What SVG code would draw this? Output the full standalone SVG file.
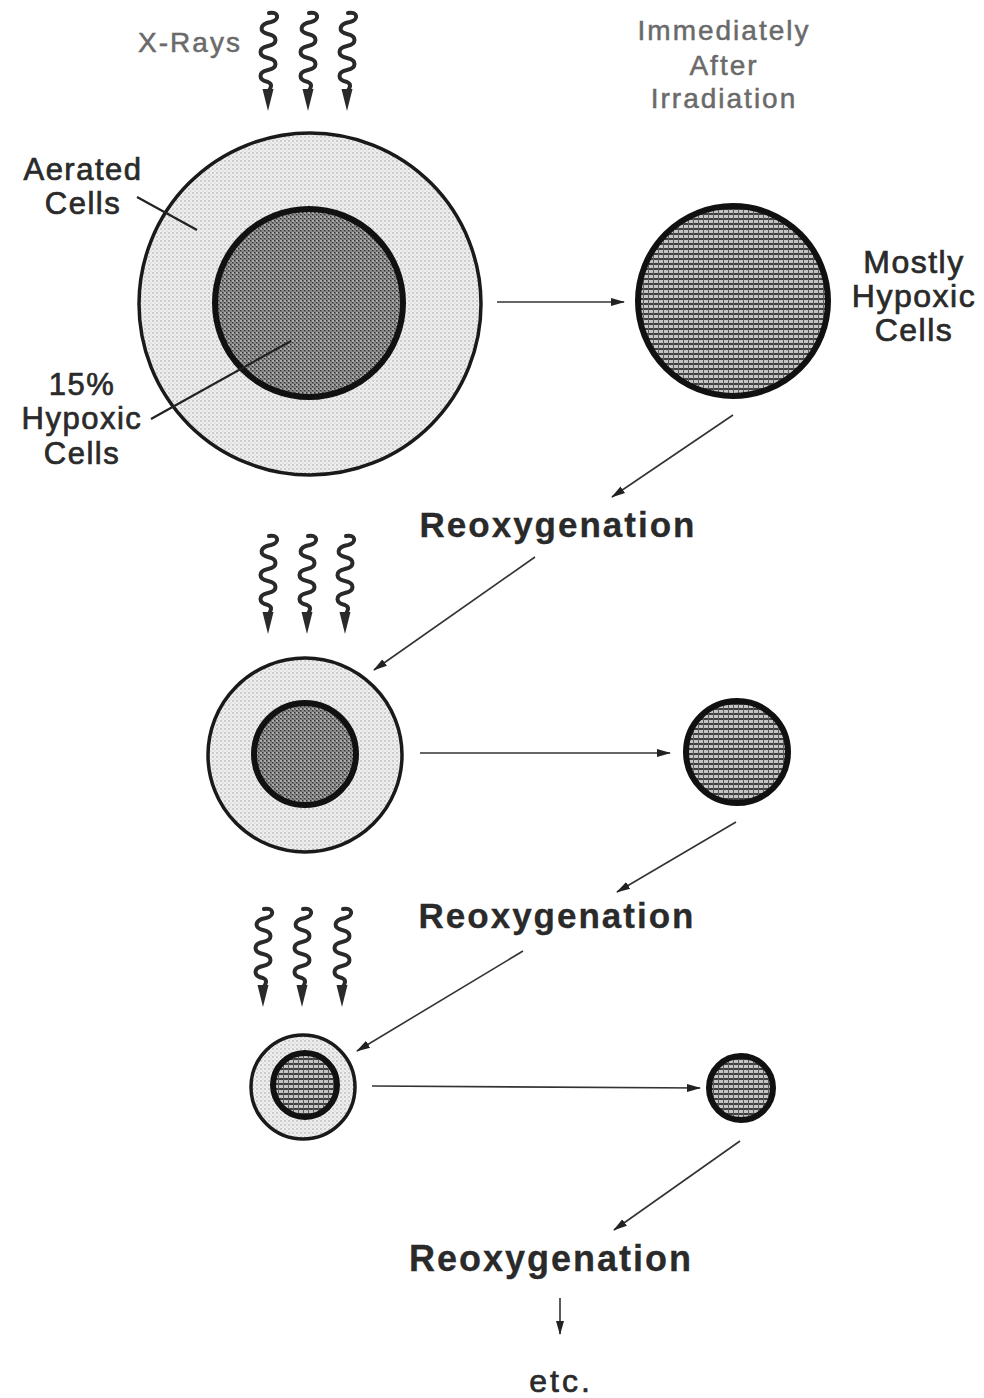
<svg xmlns="http://www.w3.org/2000/svg" width="984" height="1398" viewBox="0 0 984 1398">
<style>
text{font-family:"Liberation Sans",Arial,sans-serif;fill:#2a2a2a;text-anchor:middle;stroke:#2a2a2a;stroke-width:0.7}
.lbl{font-size:31px;letter-spacing:1.5px}
.gray{fill:#6a6a6a;stroke:#6a6a6a;stroke-width:0.5;font-size:28px;letter-spacing:2px}
.reo{font-size:35px;font-weight:bold;letter-spacing:2px;stroke-width:0.3}
.conn{stroke:#333;stroke-width:1.6;fill:none}
.lead{stroke:#222;stroke-width:2.2;fill:none}
.wave{stroke:#2a2a2a;stroke-width:4;fill:none;stroke-linecap:round}
.outer{fill:url(#light);stroke:#1a1a1a;stroke-width:3.5}
.inner{fill:url(#stip);stroke:#111;stroke-width:6}
.hyp{fill:url(#grid);stroke:#111;stroke-width:6}
</style>
<defs>
<pattern id="light" width="4" height="4" patternUnits="userSpaceOnUse">
<rect width="4" height="4" fill="#efefef"/>
<circle cx="1" cy="1" r="0.8" fill="#a0a0a0"/>
<circle cx="3" cy="3" r="0.6" fill="#b8b8b8"/>
</pattern>
<pattern id="stip" width="4" height="4" patternUnits="userSpaceOnUse">
<rect width="4" height="4" fill="#6e6e6e"/>
<circle cx="1" cy="1" r="0.9" fill="#c8c8c8"/>
<circle cx="3" cy="3" r="0.8" fill="#b0b0b0"/>
<rect x="2" y="0" width="1" height="1" fill="#333"/>
<rect x="0" y="2" width="1" height="1" fill="#333"/>
</pattern>
<pattern id="grid" width="5" height="5" patternUnits="userSpaceOnUse">
<rect width="5" height="5" fill="#c4c4c4"/>
<rect x="0" y="3" width="5" height="2" fill="#3e3e3e"/>
<rect x="3" y="0" width="1" height="5" fill="#5a5a5a"/>
</pattern>
<marker id="ah" markerWidth="14" markerHeight="10" refX="13" refY="5" orient="auto" markerUnits="userSpaceOnUse">
<path d="M0,1 L14,5 L0,9 Z" fill="#222"/>
</marker>
<g id="wv">
<path class="wave" d="M1,1 C11,-1 12,8 3,10 C-9,12 -9,20 0,22 C10,24 10,32 0,34 C-10,36 -10,44 0,46 C10,48 10,56 0,58 C-10,60 -10,68 0,70 C5,72 3,76 0,80"/>
<path d="M-5.5,77 L5.5,77 L0,99 Z" fill="#2a2a2a"/>
</g>
</defs>
<rect width="984" height="1398" fill="#fff"/>

<g id="connectors">
<line class="conn" x1="497" y1="302" x2="624" y2="302" marker-end="url(#ah)"/>
<line class="conn" x1="733" y1="415" x2="612" y2="497" marker-end="url(#ah)"/>
<line class="conn" x1="535" y1="557" x2="374" y2="670" marker-end="url(#ah)"/>
<line class="conn" x1="420" y1="753" x2="670" y2="753" marker-end="url(#ah)"/>
<line class="conn" x1="736" y1="822" x2="617" y2="892" marker-end="url(#ah)"/>
<line class="conn" x1="523" y1="951" x2="357" y2="1051" marker-end="url(#ah)"/>
<line class="conn" x1="372" y1="1086" x2="700" y2="1088" marker-end="url(#ah)"/>
<line class="conn" x1="740" y1="1141" x2="614" y2="1230" marker-end="url(#ah)"/>
<line class="conn" x1="560" y1="1298" x2="560" y2="1334" marker-end="url(#ah)"/>
</g>

<g id="xrays1">
<use href="#wv" x="268" y="12"/>
<use href="#wv" x="308" y="12"/>
<use href="#wv" x="347" y="12"/>
<text class="gray" x="190" y="52">X-Rays</text>
</g>
<g id="xrays2">
<use href="#wv" x="268" y="535"/>
<use href="#wv" x="307" y="535"/>
<use href="#wv" x="345" y="535"/>
</g>
<g id="xrays3">
<use href="#wv" x="263" y="908"/>
<use href="#wv" x="302" y="908"/>
<use href="#wv" x="342" y="908"/>
</g>

<g id="tumor1">
<circle class="outer" cx="310" cy="304" r="171"/>
<circle class="inner" cx="309" cy="303" r="94"/>
<line class="lead" x1="137" y1="197" x2="197" y2="230"/>
<line class="lead" x1="151" y1="419" x2="291" y2="341"/>
<text class="lbl" x="83" y="180">Aerated</text>
<text class="lbl" x="83" y="214">Cells</text>
<text class="lbl" x="82" y="395">15%</text>
<text class="lbl" x="82" y="429">Hypoxic</text>
<text class="lbl" x="82" y="464">Cells</text>
</g>

<g id="after-label">
<text class="gray" x="724" y="40">Immediately</text>
<text class="gray" x="724" y="75">After</text>
<text class="gray" x="724" y="108">Irradiation</text>
</g>

<g id="hypoxic1">
<circle class="hyp" cx="733" cy="301" r="95"/>
<text class="lbl" x="914" y="273" style="font-size:32px">Mostly</text>
<text class="lbl" x="914" y="307" style="font-size:32px">Hypoxic</text>
<text class="lbl" x="914" y="341" style="font-size:32px">Cells</text>
</g>

<g id="reox1"><text class="reo" x="558" y="537">Reoxygenation</text></g>

<g id="tumor2">
<circle class="outer" cx="305" cy="755" r="97"/>
<circle class="inner" cx="305" cy="754" r="51"/>
</g>
<g id="hypoxic2"><circle class="hyp" cx="737" cy="752" r="51"/></g>

<g id="reox2"><text class="reo" x="557" y="928">Reoxygenation</text></g>

<g id="tumor3">
<circle class="outer" cx="303" cy="1087" r="52"/>
<circle class="inner" cx="305" cy="1085" r="32" style="fill:url(#grid)"/>
</g>
<g id="hypoxic3"><circle class="hyp" cx="741" cy="1088" r="32"/></g>

<g id="reox3"><text class="reo" x="551" y="1271" style="font-size:36px">Reoxygenation</text></g>

<g id="etc"><text class="lbl" x="561" y="1392" style="font-size:32px;letter-spacing:3px">etc.</text></g>
</svg>
